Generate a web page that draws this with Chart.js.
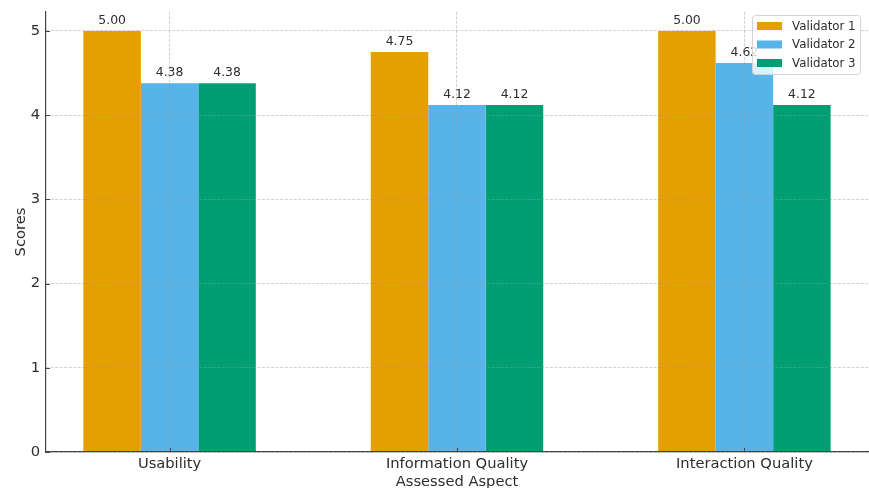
<!DOCTYPE html>
<html>
<head>
<meta charset="utf-8">
<script src="https://cdn.jsdelivr.net/npm/chart.js@4/dist/chart.umd.min.js"></script>
<style>
  html, body { margin: 0; padding: 0; background: #fff; }
  #wrap { width: 869px; height: 488px; }
</style>
</head>
<body>
<div id="wrap"><canvas id="c"></canvas></div>
<script>
// Assessed aspects and mean scores from each validator
const categories = ['Usability', 'Information Quality', 'Interaction Quality'];
const validatorNames = ['Validator 1', 'Validator 2', 'Validator 3'];
const validator1 = [5.00, 4.75, 5.00];
const validator2 = [4.38, 4.12, 4.62];
const validator3 = [4.38, 4.12, 4.12];
const yTicks = [0, 1, 2, 3, 4, 5];

const seriesValues = [validator1, validator2, validator3];
const seriesColors = ['#E69F00', '#56B4E9', '#009E73'];
const FONT = 'DejaVu Sans, Verdana, sans-serif';
const TEXT = '#2e2e2e';
const AXIS = '#444444';

// Value labels above each bar
const valueLabels = {
  id: 'valueLabels',
  afterDatasetsDraw(chart) {
    const ctx = chart.ctx;
    ctx.save();
    ctx.font = '12.4px ' + FONT;
    ctx.fillStyle = TEXT;
    ctx.textAlign = 'center';
    ctx.textBaseline = 'bottom';
    chart.data.datasets.forEach((ds, di) => {
      const meta = chart.getDatasetMeta(di);
      meta.data.forEach((bar, i) => {
        ctx.fillText(seriesValues[di][i].toFixed(2), bar.x, bar.y - 4);
      });
    });
    ctx.restore();
  }
};

// Short inward tick marks on both axes
const innerTicks = {
  id: 'innerTicks',
  afterDraw(chart) {
    const ctx = chart.ctx;
    const xs = chart.scales.x, ys = chart.scales.y;
    const a = chart.chartArea;
    ctx.save();
    ctx.strokeStyle = AXIS;
    ctx.lineWidth = 1;
    ctx.beginPath();
    yTicks.forEach(v => {
      const y = Math.round(ys.getPixelForValue(v)) + 0.5;
      ctx.moveTo(a.left, y); ctx.lineTo(a.left + 4, y);
    });
    categories.forEach((c, i) => {
      const x = Math.round(xs.getPixelForValue(i)) + 0.5;
      ctx.moveTo(x, a.bottom); ctx.lineTo(x, a.bottom - 4);
    });
    ctx.stroke();
    ctx.restore();
  }
};

// Framed legend in the upper right corner of the plot
const boxLegend = {
  id: 'boxLegend',
  afterDraw(chart) {
    const ctx = chart.ctx;
    const a = chart.chartArea;
    const w = 108, h = 59;
    const x0 = a.right - 8 - w, y0 = a.top + 3;
    ctx.save();
    ctx.beginPath();
    ctx.roundRect(x0 + 0.5, y0 + 0.5, w, h, 3);
    ctx.fillStyle = 'rgba(255,255,255,0.8)';
    ctx.fill();
    ctx.strokeStyle = '#d4d4d4';
    ctx.lineWidth = 1;
    ctx.stroke();
    ctx.font = '11.8px ' + FONT;
    ctx.textBaseline = 'middle';
    ctx.textAlign = 'left';
    validatorNames.forEach((name, i) => {
      const cy = y0 + 11 + i * 18.5;
      ctx.fillStyle = seriesColors[i];
      ctx.fillRect(x0 + 5, cy - 4, 25, 8);
      ctx.fillStyle = TEXT;
      ctx.fillText(name, x0 + 40, cy + 0.5);
    });
    ctx.restore();
  }
};

const gridStyle = {
  color: 'rgba(150,150,150,0.45)',
  lineWidth: 1,
  z: 1,
  offset: false,
  drawTicks: false
};
const gridDash = [3, 1.5];

new Chart(document.getElementById('c'), {
  type: 'bar',
  data: {
    datasets: validatorNames.map((name, di) => ({
      label: name,
      data: seriesValues[di].map((v, i) => ({ x: i, y: v })),
      backgroundColor: seriesColors[di],
      borderWidth: 0,
      categoryPercentage: 0.6,
      barPercentage: 1.0
    }))
  },
  options: {
    responsive: true,
    maintainAspectRatio: false,
    animation: false,
    layout: { padding: { top: 12, right: 1, left: 0, bottom: 0 } },
    plugins: {
      legend: { display: false },
      tooltip: { enabled: false }
    },
    scales: {
      x: {
        type: 'linear',
        offset: false,
        min: -0.43,
        max: 2.43,
        afterBuildTicks(scale) {
          scale.ticks = categories.map((c, i) => ({ value: i }));
        },
        afterFit(scale) {
          scale.height = 36;
          scale.paddingLeft = 0;
          scale.paddingRight = 0;
        },
        ticks: {
          callback: (v) => categories[v],
          font: { family: FONT, size: 14.7 },
          color: TEXT,
          padding: 3,
          maxRotation: 0,
          autoSkip: false
        },
        grid: Object.assign({}, gridStyle),
        border: { display: true, color: AXIS, width: 1.2, dash: gridDash, z: 1 },
        title: {
          display: true,
          text: 'Assessed Aspect',
          font: { family: FONT, size: 14.7 },
          color: TEXT,
          padding: { top: 0, bottom: -3 }
        }
      },
      y: {
        min: 0,
        max: 5.225,
        afterBuildTicks(scale) {
          scale.ticks = yTicks.map(v => ({ value: v }));
        },
        afterFit(scale) {
          scale.width = 46;
          scale.paddingTop = 0;
          scale.paddingBottom = 0;
        },
        ticks: {
          font: { family: FONT, size: 14.7 },
          color: TEXT,
          padding: 6
        },
        grid: Object.assign({}, gridStyle),
        border: { display: true, color: AXIS, width: 1.2, dash: gridDash, z: 1 },
        title: {
          display: true,
          text: 'Scores',
          font: { family: FONT, size: 14.7 },
          color: TEXT,
          padding: { top: 12, bottom: 0 }
        }
      }
    }
  },
  plugins: [valueLabels, innerTicks, boxLegend]
});
</script>
</body>
</html>
